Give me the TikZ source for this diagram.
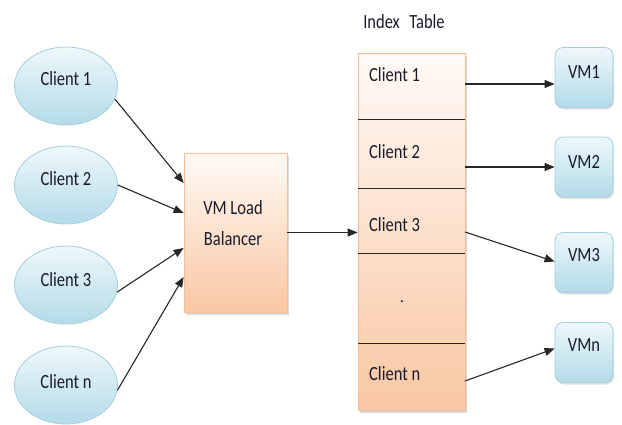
\documentclass[tikz,border=0pt]{standalone}
\usepackage{fontspec}
\setmainfont{Carlito}
\usetikzlibrary{arrows.meta,shadows,shapes.geometric}

\definecolor{cliTop}{HTML}{EEF8FB}
\definecolor{cliBot}{HTML}{B3DBE7}
\definecolor{cliLine}{HTML}{A3CFDE}
\definecolor{lbTop}{HTML}{FFFAF6}
\definecolor{lbBot}{HTML}{F9C7A3}
\definecolor{lbLine}{HTML}{F6BE95}
\definecolor{ink}{HTML}{1A1A2A}

\def \txtsize {\fontsize{16.5}{19}\selectfont}
\newcommand{\tall}[1]{\scalebox{1}[1.22]{#1}}

\tikzset{
  client/.style={draw=cliLine, ellipse, minimum width=103pt, minimum height=78pt,
    top color=cliTop, bottom color=cliBot, line width=0.8pt},
  vmbox/.style={draw=cliLine, rounded corners=8pt, minimum width=58pt, minimum height=60pt,
    top color=cliTop, bottom color=cliBot, line width=0.8pt,
    drop shadow={shadow xshift=1pt, shadow yshift=-2pt, fill=black!25}},
  lbbox/.style={draw=lbLine, top color=lbTop, bottom color=lbBot, line width=0.8pt,
    drop shadow={shadow xshift=1.5pt, shadow yshift=-3pt, fill=black!30}},
  txt/.style={font=\txtsize, text=ink, inner sep=0pt},
  conn/.style={-{Triangle[length=10pt,width=8pt]}, line width=1.1pt, black!85},
  divider/.style={line width=1pt, black!85}
}

\begin{document}
\begin{tikzpicture}[x=1pt, y=-1pt]
\useasboundingbox (0,0) rectangle (622,424);

% clients
\node[client, label={[txt, yshift=7pt]center:\tall{Client 1}}] (c1) at (66,86) {};
\node[client, label={[txt, yshift=6pt]center:\tall{Client 2}}] (c2) at (66,185) {};
\node[client, label={[txt, yshift=5pt]center:\tall{Client 3}}] (c3) at (66,285) {};
\node[client, label={[txt, yshift=3pt]center:\tall{Client n}}] (c4) at (66,385) {};

% load balancer
\node[lbbox, minimum width=103pt, minimum height=159pt] (lb) at (235.5,232.5) {};
\node[txt] (lbtop) at (233,208) {\tall{VM Load}};
\node[txt] (lbbot) at (233,239) {\tall{Balancer}};

% index table
\node[txt] (title) at (404,22) {\tall{Index\hspace{0.35em} Table}};
\node[lbbox, minimum width=107pt, minimum height=357pt] (table) at (411.5,231.5) {};
\draw[divider] (358,119) -- (465,119);
\draw[divider] (358,188) -- (465,188);
\draw[divider] (358,253) -- (465,253);
\draw[divider] (358,343) -- (465,343);
\node[txt, anchor=west] (t1) at (369,75) {\tall{Client 1}};
\node[txt, anchor=west] (t2) at (369,152) {\tall{Client 2}};
\node[txt, anchor=west] (t3) at (369,225) {\tall{Client 3}};
\node[txt] (tdot) at (402,302) {.};
\node[txt, anchor=west] (t4) at (369,374) {\tall{Client n}};

% VMs
\node[vmbox, label={[txt, yshift=5pt]center:\tall{VM1}}] (v1) at (584,77.5) {};
\node[vmbox, label={[txt, yshift=5pt]center:\tall{VM2}}] (v2) at (584,167) {};
\node[vmbox, label={[txt, yshift=7pt]center:\tall{VM3}}] (v3) at (584,262.5) {};
\node[vmbox, label={[txt, yshift=7pt]center:\tall{VMn}}] (v4) at (584,352.5) {};

\coordinate (r1) at (465,84);
\coordinate (r2) at (465,167);
\coordinate (r3) at (465,232);
\coordinate (r4) at (465,381);

% connectors
\draw[conn] (c1.-15) -- ([yshift=49.5pt]lb.west);
\draw[conn] (c2.east) -- ([yshift=19.5pt]lb.west);
\draw[conn] (c3.-8) -- ([yshift=-15.5pt]lb.west);
\draw[conn] (c4.-6) -- ([yshift=-44.5pt]lb.west);
\draw[conn] (lb.east) -- (lb.east -| table.west);
\draw[conn] (r1) -- (r1 -| v1.west);
\draw[conn] (r2) -- (r2 -| v2.west);
\draw[conn] (r3) -- ([yshift=1pt]v3.west);
\draw[conn] (r4) -- ([yshift=4pt]v4.west);
\end{tikzpicture}
\end{document}
